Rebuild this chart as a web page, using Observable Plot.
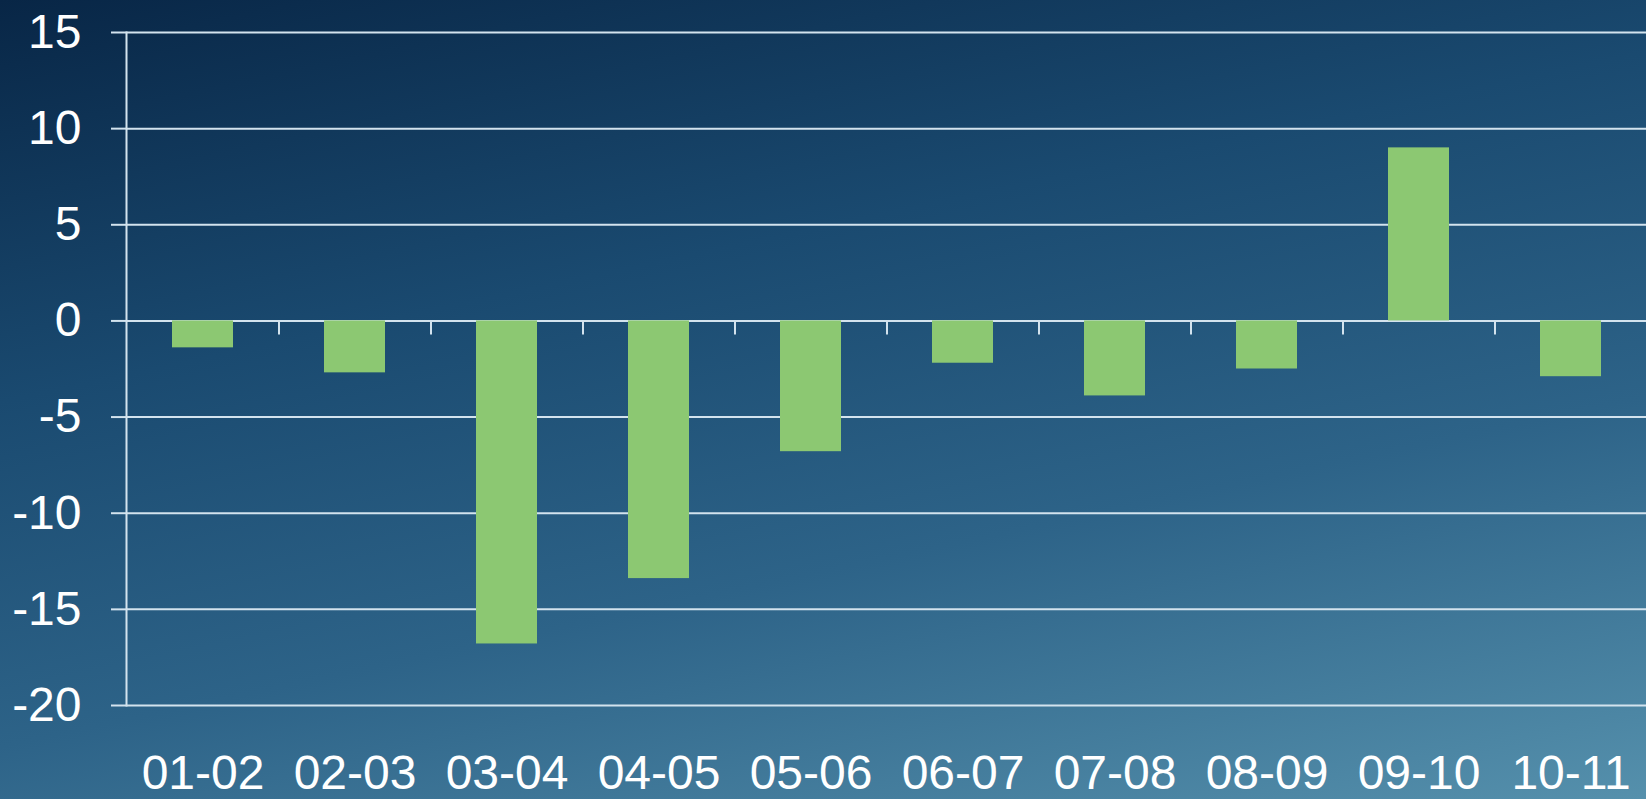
<!DOCTYPE html>
<html>
<head>
<meta charset="utf-8">
<script src="https://cdn.jsdelivr.net/npm/d3@7"></script>
<script src="https://cdn.jsdelivr.net/npm/@observablehq/plot@0.6"></script>
<style>
  html, body { margin: 0; padding: 0; }
  body {
    width: 1646px; height: 799px; overflow: hidden;
    background: linear-gradient(168deg, #082646 0%, #1a4a70 35%, #2d6388 65%, #5590ac 100%);
  }
  #chart svg { display: block; }
</style>
</head>
<body>
<div id="chart"></div>
<script>
// Year-on-year change by period
const periods = ["01-02", "02-03", "03-04", "04-05", "05-06", "06-07", "07-08", "08-09", "09-10", "10-11"];
const changes = [-1.4, -2.7, -16.8, -13.4, -6.8, -2.2, -3.9, -2.5, 9.0, -2.9];
const yTicks = [15, 10, 5, 0, -5, -10, -15, -20];

const rows = periods.map((period, i) => ({period, value: changes[i]}));

const W = 1646, H = 799;
const mLeft = 126, mRight = 0, mTop = 32, mBottom = 94;
const step = (W - mLeft - mRight) / periods.length;

const lineColor = "#d3e3ee";
const barColor = "#8cc872";
const font = "'Liberation Sans', Arial, Helvetica, sans-serif";

const chart = Plot.plot({
  width: W,
  height: H,
  marginLeft: mLeft,
  marginRight: mRight,
  marginTop: mTop,
  marginBottom: mBottom,
  style: {
    background: "linear-gradient(168deg, #082646 0%, #1a4a70 35%, #2d6388 65%, #5590ac 100%)",
    fontFamily: font,
    color: "white"
  },
  x: {domain: periods, paddingInner: 0.6, paddingOuter: 0.3},
  y: {domain: [-20, 15]},
  marks: [
    Plot.gridY(yTicks, {stroke: lineColor, strokeOpacity: 1, strokeWidth: 2}),
    Plot.frame({anchor: "left", stroke: lineColor, strokeWidth: 2}),
    Plot.barY(rows, {x: "period", y: "value", fill: barColor}),
    // short separators hanging below the zero line between periods
    Plot.ruleX(periods.slice(1), {x: d => d, y1: 0, y2: 0, dx: -step / 2, insetBottom: -14, stroke: lineColor, strokeWidth: 2}),
    Plot.axisY(yTicks, {
      tickSize: 15, tickPadding: 30, tickFormat: d => String(d),
      stroke: lineColor, strokeOpacity: 1, strokeWidth: 2,
      fill: "white", fontSize: 48, label: null
    }),
    Plot.axisX({
      anchor: "bottom", tickSize: 0, tickPadding: 49,
      fill: "white", fontSize: 48, label: null
    })
  ]
});

document.getElementById("chart").append(chart);
</script>
</body>
</html>
